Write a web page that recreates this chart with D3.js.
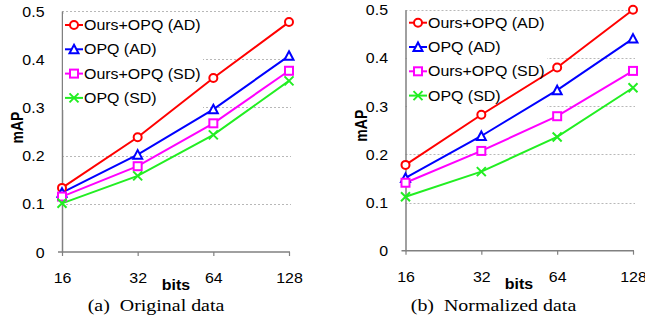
<!DOCTYPE html>
<html><head><meta charset="utf-8">
<script src="https://cdn.jsdelivr.net/npm/d3@7"></script>
<style>
html,body{margin:0;padding:0;background:#fff;}
svg{display:block;}
</style></head>
<body>
<svg id="chart" width="645" height="324"></svg>
<script>
const categories = ["16", "32", "64", "128"];
const seriesNames = ["Ours+OPQ (AD)", "OPQ (AD)", "Ours+OPQ (SD)", "OPQ (SD)"];
const seriesColors = ["#ff0000", "#0000ff", "#ff00ff", "#22ee22"];
const seriesMarkers = ["circle", "triangle", "square", "cross"];
const yTicks = [0, 0.1, 0.2, 0.3, 0.4, 0.5];
const yTickLabels = ["0", "0.1", "0.2", "0.3", "0.4", "0.5"];

const origOursAD = [0.133, 0.238, 0.361, 0.477];
const origOpqAD  = [0.123, 0.202, 0.296, 0.407];
const origOursSD = [0.115, 0.178, 0.267, 0.376];
const origOpqSD  = [0.101, 0.158, 0.243, 0.355];

const normOursAD = [0.178, 0.282, 0.380, 0.500];
const normOpqAD  = [0.151, 0.238, 0.333, 0.440];
const normOursSD = [0.141, 0.207, 0.279, 0.373];
const normOpqSD  = [0.112, 0.164, 0.236, 0.338];

const captions = ["(a)\u00a0 Original data", "(b)\u00a0 Normalized data"];

const SX = 1.14;
const svg = d3.select("#chart");
const sans = "'Liberation Sans', Arial, sans-serif";
const serif = "'Liberation Serif', 'Times New Roman', serif";

function marker(g, type, color) {
  const s = 4.5;
  if (type === "circle") {
    g.append("circle").attr("r", 4).attr("fill", "#fff").attr("stroke", color).attr("stroke-width", 2);
  } else if (type === "triangle") {
    g.append("path").attr("d", `M0,${-s}L${s},${s-0.5}L${-s},${s-0.5}Z`).attr("fill", "#fff").attr("stroke", color).attr("stroke-width", 2);
  } else if (type === "square") {
    g.append("rect").attr("x", -4).attr("y", -4).attr("width", 8).attr("height", 8).attr("fill", "#fff").attr("stroke", color).attr("stroke-width", 2);
  } else {
    g.append("path").attr("d", `M${-s},${-s}L${s},${s}M${-s},${s}L${s},${-s}`).attr("stroke", color).attr("stroke-width", 2).attr("fill", "none");
  }
}

function panel(cfg) {
  const x = d3.scalePoint().domain(categories).range([cfg.x0, cfg.x1]);
  const y = d3.scaleLinear().domain([0, 0.5]).range([cfg.y0, cfg.y1]);
  const g = svg.append("g");

  // gridlines
  g.append("g").selectAll("line").data(yTicks.slice(1)).join("line")
    .attr("x1", cfg.x0).attr("x2", cfg.x1 + 2)
    .attr("y1", d => Math.round(y(d)) + 0.5).attr("y2", d => Math.round(y(d)) + 0.5)
    .attr("stroke", "#b8b8b8").attr("stroke-width", 1).attr("stroke-dasharray", "2,2");

  // y axis
  const yAxis = g.append("g").attr("transform", `translate(${cfg.x0},0)`)
    .call(d3.axisLeft(y).tickValues(yTicks).tickFormat((d, i) => yTickLabels[i]).tickSize(0).tickPadding(0));
  yAxis.select(".domain").attr("stroke", "#808080").attr("stroke-width", 1.5);
  yAxis.selectAll("text")
    .attr("x", -17.5 / SX).attr("dy", "0.36em")
    .attr("transform", `scale(${SX},1)`)
    .attr("font-family", sans).attr("font-size", 14).attr("fill", "#000");

  // x axis
  const xAxis = g.append("g").attr("transform", `translate(0,${cfg.y0})`)
    .call(d3.axisBottom(x).tickSize(4).tickSizeOuter(0));
  xAxis.select(".domain").attr("stroke", "#808080").attr("stroke-width", 1.5)
    .attr("d", `M${cfg.x0 - 4},0H${cfg.x1 + 1}`);
  xAxis.selectAll(".tick line").attr("stroke", "#808080").attr("stroke-width", 1.2);
  xAxis.selectAll("text")
    .attr("y", 31).attr("dy", 0)
    .attr("transform", `scale(${SX},1)`)
    .attr("font-family", sans).attr("font-size", 14).attr("fill", "#000");

  // legend box
  g.append("rect").attr("x", cfg.lx - 2).attr("y", cfg.ly - 11).attr("width", 140).attr("height", 96).attr("fill", "#fff");

  // lines
  const line = d3.line().x((d, i) => x(categories[i])).y(d => y(d));
  cfg.data.forEach((vals, si) => {
    g.append("path").datum(vals).attr("d", line)
      .attr("fill", "none").attr("stroke", seriesColors[si]).attr("stroke-width", 2);
  });
  cfg.data.forEach((vals, si) => {
    vals.forEach((v, i) => {
      const mg = g.append("g").attr("transform", `translate(${x(categories[i])},${y(v)})`);
      marker(mg, seriesMarkers[si], seriesColors[si]);
    });
  });

  // legend entries
  seriesNames.forEach((name, si) => {
    const ly = cfg.ly + si * 24.3;
    const lg = g.append("g").attr("transform", `translate(${cfg.lx},${ly})`);
    lg.append("line").attr("x1", 0).attr("x2", 18).attr("y1", 0).attr("y2", 0)
      .attr("stroke", seriesColors[si]).attr("stroke-width", 2);
    const mg = lg.append("g").attr("transform", "translate(9,0)");
    marker(mg, seriesMarkers[si], seriesColors[si]);
    lg.append("text").attr("x", 19 / SX).attr("y", 5).attr("transform", `scale(${SX},1)`)
      .attr("font-family", sans).attr("font-size", 14).attr("fill", "#000").text(name);
  });

  // axis titles
  g.append("text").attr("transform", `translate(${cfg.bitsX},${cfg.bitsY}) scale(${SX},1)`)
    .attr("text-anchor", "middle").attr("font-family", sans).attr("font-weight", "bold")
    .attr("font-size", 14).text("bits");
  g.append("text").attr("transform", `translate(${cfg.mapX},${cfg.mapY}) rotate(-90) scale(1,${SX})`)
    .attr("text-anchor", "middle").attr("font-family", sans).attr("font-weight", "bold")
    .attr("font-size", 14).text("mAP");

  // caption
  g.append("text").attr("transform", `translate(${cfg.capX},311) scale(${SX},1)`)
    .attr("text-anchor", "middle").attr("font-family", serif).attr("font-size", 17.5)
    .attr("fill", "#000").text(cfg.caption);
}

panel({x0: 62, x1: 289, y0: 252, y1: 11, lx: 65, ly: 25,
  data: [origOursAD, origOpqAD, origOursSD, origOpqSD],
  bitsX: 176, bitsY: 290, mapX: 23, mapY: 127.5, capX: 156, caption: captions[0]});
panel({x0: 405.5, x1: 633, y0: 250.7, y1: 9.7, lx: 409, ly: 22.7,
  data: [normOursAD, normOpqAD, normOursSD, normOpqSD],
  bitsX: 519, bitsY: 288.5, mapX: 367, mapY: 125.7, capX: 493.5, caption: captions[1]});
</script>
</body></html>
